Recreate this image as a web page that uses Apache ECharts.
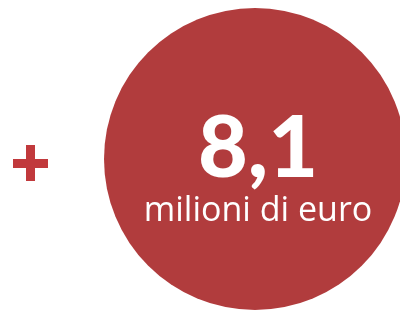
<!DOCTYPE html>
<html>
<head>
<meta charset="utf-8">
<script src="https://cdn.jsdelivr.net/npm/echarts@6/dist/echarts.min.js"></script>
<style>
  html, body { margin: 0; padding: 0; background: #fff; }
  #chart { width: 400px; height: 314px; }
</style>
</head>
<body>
<div id="chart"></div>
<script>
// Data
var amounts = [8.1];                    // amount shown inside the circle
var amountLabels = ['8,1'];             // as printed (Italian decimal comma)
var units = ['milioni di euro'];

var chart = echarts.init(document.getElementById('chart'));

chart.setOption({
  animation: false,
  series: [{
    type: 'pie',
    center: [255, 159],
    radius: [0, 151],
    silent: true,
    itemStyle: { color: '#b13c3d' },
    label: {
      position: 'center',
      offset: [3, 13],
      formatter: function (p) {
        return '{big|' + amountLabels[p.dataIndex] + '}\n{unit|' + units[p.dataIndex] + '}';
      },
      rich: {
        big: {
          fontFamily: 'Lato',
          fontWeight: 900,
          fontSize: 86,
          color: '#ffffff',
          lineHeight: 78
        },
        unit: {
          fontFamily: 'Open Sans',
          fontSize: 34,
          color: '#ffffff',
          lineHeight: 46
        }
      }
    },
    labelLine: { show: false },
    data: amounts.map(function (v, i) { return { value: v, name: units[i] }; })
  }],
  // the "+" sign to the left of the circle
  graphic: [{
    type: 'group',
    left: 13,
    top: 145,
    children: [
      { type: 'rect', shape: { x: 0, y: 14, width: 35, height: 9 }, style: { fill: '#c1393c' } },
      { type: 'rect', shape: { x: 13, y: 0, width: 9, height: 36 }, style: { fill: '#c1393c' } }
    ]
  }]
});
</script>
</body>
</html>
